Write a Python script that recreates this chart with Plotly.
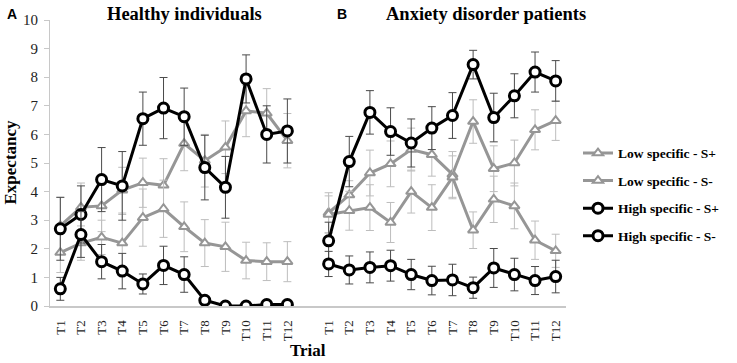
import plotly.graph_objects as go

trials = ["T1", "T2", "T3", "T4", "T5", "T6", "T7", "T8", "T9", "T10", "T11", "T12"]
x_left = list(range(1, 13))
x_right = list(range(14, 26))

# Panel A: Healthy individuals
ls_plus_A = [2.8, 3.45, 3.5, 4.05, 4.31, 4.22, 5.68, 5.08, 5.55, 6.82, 6.74, 5.78]
ls_plus_A_err = [1.0, 0.85, 0.9, 0.8, 0.86, 0.93, 0.95, 0.92, 0.92, 0.9, 0.86, 0.95]
ls_minus_A = [1.87, 2.2, 2.4, 2.2, 3.09, 3.4, 2.77, 2.2, 2.07, 1.59, 1.55, 1.55]
ls_minus_A_err = [0.7, 0.6, 0.6, 1.0, 1.0, 1.0, 0.87, 0.82, 0.86, 0.64, 0.66, 0.7]
hs_plus_A = [2.7, 3.2, 4.42, 4.2, 6.55, 6.92, 6.62, 4.84, 4.15, 7.94, 6.0, 6.12]
hs_plus_A_err = [1.1, 1.0, 1.12, 1.2, 0.93, 1.07, 1.0, 1.13, 1.08, 0.84, 1.0, 1.12]
hs_minus_A = [0.6, 2.5, 1.55, 1.22, 0.77, 1.42, 1.1, 0.2, 0.0, 0.0, 0.05, 0.05]
hs_minus_A_err = [0.4, 0.8, 0.6, 0.62, 0.35, 0.67, 0.62, 0.0, 0.0, 0.0, 0.0, 0.0]

# Panel B: Anxiety disorder patients
ls_plus_B = [3.26, 3.88, 4.65, 4.97, 5.47, 5.29, 4.6, 6.45, 4.8, 5.0, 6.16, 6.48]
ls_plus_B_err = [0.7, 0.5, 0.8, 0.8, 0.75, 0.75, 0.8, 0.76, 0.8, 0.8, 0.7, 0.69]
ls_minus_B = [3.2, 3.33, 3.44, 2.92, 4.0, 3.44, 4.5, 2.65, 3.73, 3.5, 2.3, 1.93]
ls_minus_B_err = [0.65, 0.68, 0.8, 0.7, 0.75, 0.8, 0.75, 0.64, 0.81, 0.8, 0.67, 0.58]
hs_plus_B = [2.28, 5.05, 6.77, 6.1, 5.7, 6.22, 6.66, 8.44, 6.59, 7.35, 8.18, 7.87]
hs_plus_B_err = [0.65, 0.88, 0.76, 0.83, 0.84, 0.75, 0.8, 0.5, 0.85, 0.77, 0.7, 0.71]
hs_minus_B = [1.47, 1.26, 1.35, 1.41, 1.1, 0.89, 0.91, 0.64, 1.33, 1.1, 0.89, 1.03]
hs_minus_B_err = [0.44, 0.49, 0.54, 0.54, 0.53, 0.5, 0.55, 0.37, 0.68, 0.57, 0.49, 0.57]

series_names = ["Low specific - S+", "Low specific - S-", "High specific - S+", "High specific - S-"]

GRAY = "#969696"
GRAY_ERR = "#bdbdbd"
BLACK = "#000000"
BLACK_ERR = "#4a4a4a"
SERIF = "Liberation Serif, Times New Roman, serif"
SANS = "Liberation Sans, Arial, sans-serif"

fig = go.Figure()

def add(x, y, err, name, kind, show):
    if kind == "low":
        line = dict(color=GRAY, width=3)
        marker = dict(symbol="triangle-up", size=9, color="white", line=dict(color=GRAY, width=2))
        ecol = GRAY_ERR
    else:
        line = dict(color=BLACK, width=3)
        marker = dict(symbol="circle", size=10, color="white", line=dict(color=BLACK, width=3))
        ecol = BLACK_ERR
    fig.add_trace(go.Scatter(
        x=x, y=y, mode="lines+markers", name=name, legendgroup=name, showlegend=show,
        line=line, marker=marker,
        error_y=dict(type="data", array=err, visible=True, color=ecol, thickness=1, width=4),
    ))

panels = [
    (x_left, [ls_plus_A, ls_minus_A, hs_plus_A, hs_minus_A],
     [ls_plus_A_err, ls_minus_A_err, hs_plus_A_err, hs_minus_A_err], True),
    (x_right, [ls_plus_B, ls_minus_B, hs_plus_B, hs_minus_B],
     [ls_plus_B_err, ls_minus_B_err, hs_plus_B_err, hs_minus_B_err], False),
]
kinds = ["low", "low", "high", "high"]
for xs, ys, es, show in panels:
    for name, kind, y, e in zip(series_names, kinds, ys, es):
        add(xs, y, e, name, kind, show)

ML, MR, MT, MB = 50, 171, 17, 57
plot_w = 737 - ML - MR
plot_h = 363 - MT - MB
def px_to_paper_x(px):
    return (px - ML) / plot_w
def px_to_paper_y(py):
    return (363 - MB - py) / plot_h

fig.update_layout(
    width=737, height=363,
    margin=dict(l=ML, r=MR, t=MT, b=MB),
    plot_bgcolor="white", paper_bgcolor="white",
    font=dict(family=SERIF, color="#000"),
    legend=dict(
        x=px_to_paper_x(578), xanchor="left", y=px_to_paper_y(136), yanchor="top",
        font=dict(family=SERIF, size=13.5, color="#000", weight="bold"),
        tracegroupgap=7, itemwidth=30, bgcolor="rgba(0,0,0,0)", borderwidth=0,
    ),
    xaxis=dict(
        range=[0.5, 25.5], tickmode="array",
        tickvals=x_left + x_right, ticktext=trials + trials,
        tickangle=-90, showgrid=False, zeroline=False,
        showline=True, linecolor="#c8c8c8", linewidth=2,
        ticks="", ticklabelstandoff=7,
        tickfont=dict(family=SERIF, size=13, color="#222"),
    ),
    yaxis=dict(
        range=[0, 10], tickmode="array", tickvals=list(range(0, 11)),
        showgrid=False, zeroline=False,
        showline=True, linecolor="#c8c8c8", linewidth=1,
        ticks="outside", ticklen=5, tickcolor="#c8c8c8", ticklabelstandoff=3,
        tickfont=dict(family=SERIF, size=15, color="#222"),
    ),
)

anns = []
for text, px, py, fam, size, ang in [
    ("<b>Healthy individuals</b>", 184, 11, SERIF, 18.5, 0),
    ("<b>Anxiety disorder patients</b>", 486, 11, SERIF, 18.5, 0),
    ("<b>A</b>", 12, 11, SANS, 14, 0),
    ("<b>B</b>", 342, 11, SANS, 14, 0),
    ("<b>Expectancy</b>", 11, 161, SERIF, 17, -90),
    ("<b>Trial</b>", 308, 351, SERIF, 17, 0),
]:
    anns.append(dict(text=text, x=px_to_paper_x(px), y=px_to_paper_y(py), xref="paper", yref="paper",
                     xanchor="center", yanchor="middle", showarrow=False, textangle=ang,
                     font=dict(family=fam, size=size, color="#000")))
fig.update_layout(annotations=anns)

fig.write_html("out.html", config={"displayModeBar": False},
               post_script="document.body.style.margin='0';document.body.style.overflow='hidden';")
